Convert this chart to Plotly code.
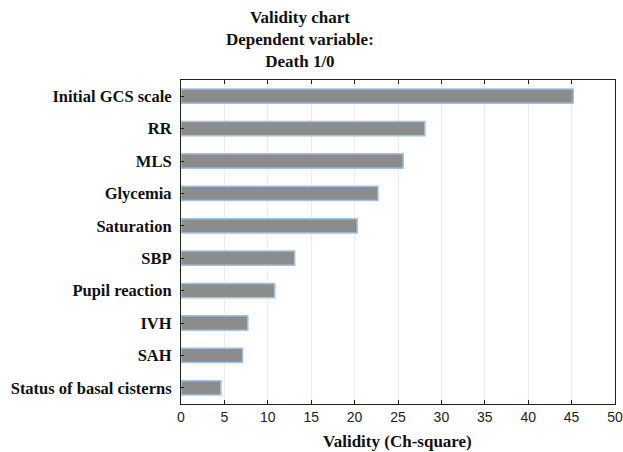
import plotly.graph_objects as go

categories = ["Initial GCS scale", "RR", "MLS", "Glycemia", "Saturation", "SBP",
              "Pupil reaction", "IVH", "SAH", "Status of basal cisterns"]
values = [45.2, 28.1, 25.6, 22.7, 20.3, 13.1, 10.8, 7.7, 7.1, 4.6]
x_ticks = [0, 5, 10, 15, 20, 25, 30, 35, 40, 45, 50]

W, H = 623, 452
L, R, T, B = 181, 8, 80, 48
pw = W - L - R
ph = H - T - B


def px_x(x):
    return (x - L) / pw


def px_y(y):
    return 1 - (y - T) / ph


fig = go.Figure(go.Bar(
    x=values, y=categories, orientation="h",
    marker=dict(color="#8c8c8c", line=dict(color="#9fc4ea", width=1.5)),
    width=0.44,
))

serif = "Liberation Serif, Times New Roman, serif"
fig.update_layout(
    width=W, height=H,
    margin=dict(l=L, r=R, t=T, b=B, autoexpand=False),
    paper_bgcolor="white", plot_bgcolor="white",
    showlegend=False,
    xaxis=dict(range=[0, 50], tickvals=x_ticks, ticks="inside", ticklen=4,
               tickcolor="#222", showline=True, linecolor="#222", linewidth=1.2,
               mirror="ticks", showgrid=True, gridcolor="#ececec", gridwidth=1,
               zeroline=False, automargin=False, ticklabeloverflow="allow",
               tickfont=dict(family="Liberation Sans, Arial, sans-serif", size=14, color="#222")),
    yaxis=dict(categoryorder="array", categoryarray=categories[::-1],
               range=[-0.5, 9.5], ticks="inside", ticklen=3, tickcolor="#222",
               showline=True, linecolor="#222", linewidth=1.2, mirror=True,
               showgrid=False, zeroline=False, ticklabelstandoff=5, automargin=False,
               tickfont=dict(family=serif, size=16.5, color="#111"),
               tickprefix="<b>", ticksuffix="</b>"),
    annotations=[
        dict(text="<b>Validity chart<br>Dependent variable:<br>Death 1/0</b>",
             x=px_x(300), y=px_y(40), xref="paper", yref="paper",
             xanchor="center", yanchor="middle", showarrow=False,
             font=dict(family=serif, size=17, color="#111"), align="center"),
        dict(text="<b>Validity (Ch-square)</b>",
             x=px_x(397), y=px_y(441), xref="paper", yref="paper",
             xanchor="center", yanchor="middle", showarrow=False,
             font=dict(family=serif, size=17, color="#111")),
    ],
)
fig.write_html(
    "out.html",
    config={"displayModeBar": False},
    post_script="document.body.style.margin='0';document.body.style.overflow='hidden';",
)
